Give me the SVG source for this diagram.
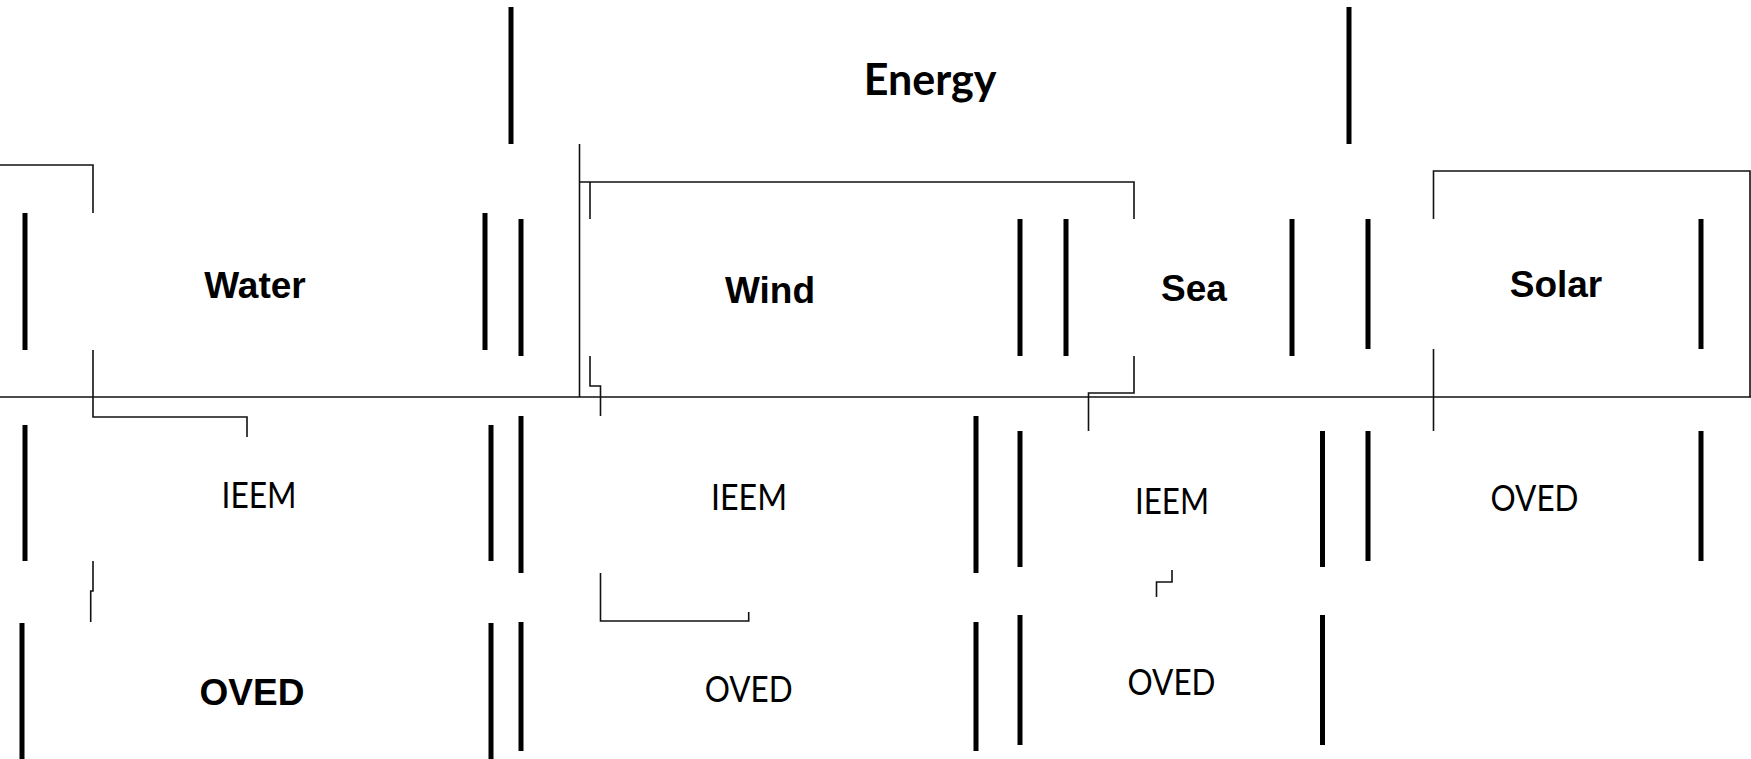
<svg xmlns="http://www.w3.org/2000/svg" width="1751" height="759" viewBox="0 0 1751 759">
<style>
.bar{stroke:#000;stroke-width:5;fill:none}
.con{stroke:#111;stroke-width:1.6;fill:none}
.tb{font-family:"Liberation Sans",Arial,sans-serif;font-weight:bold;font-size:37px;text-anchor:middle;fill:#000}
.tr{font-family:Lato,"Open Sans",sans-serif;font-weight:normal;font-size:36px;text-anchor:middle;fill:#000}
.te{font-family:Lato,"Open Sans",sans-serif;font-weight:bold;font-size:43px;text-anchor:middle;fill:#000}
</style>
<rect width="1751" height="759" fill="#fff"/>
<g id="connectors">
<path class="con" d="M0,165 H93 V213"/>
<path class="con" d="M93,350 V417 H247 V437"/>
<path class="con" d="M93,561 V591 H90.7 V622"/>
<path class="con" d="M0,397 H1751"/>
<path class="con" d="M579.5,144 V397"/>
<path class="con" d="M579.5,182 H1134 V219"/>
<path class="con" d="M1134,356 V393 H1088.5 V431"/>
<path class="con" d="M590,182 V219"/>
<path class="con" d="M590,356 V386 H600.5 V416"/>
<path class="con" d="M600.5,573 V621 H748.7 V612"/>
<path class="con" d="M1172,570 V582 H1156.5 V597"/>
<path class="con" d="M1433.5,219 V171 H1750 V397"/>
<path class="con" d="M1433.5,349 V431"/>
</g>
<g id="energy">
<line class="bar" x1="511" y1="7" x2="511" y2="144"/>
<line class="bar" x1="1349" y1="7" x2="1349" y2="144"/>
<text class="te" x="930" y="95">Energy</text>
</g>
<g id="water">
<line class="bar" x1="25" y1="213" x2="25" y2="350"/>
<line class="bar" x1="485" y1="213" x2="485" y2="350"/>
<text class="tb" x="255" y="298">Water</text>
</g>
<g id="wind">
<line class="bar" x1="521" y1="219" x2="521" y2="356"/>
<line class="bar" x1="1020" y1="219" x2="1020" y2="356"/>
<text class="tb" x="770" y="303">Wind</text>
</g>
<g id="sea">
<line class="bar" x1="1066" y1="219" x2="1066" y2="356"/>
<line class="bar" x1="1292" y1="219" x2="1292" y2="356"/>
<text class="tb" x="1194" y="301" font-size="36">Sea</text>
</g>
<g id="solar">
<line class="bar" x1="1368" y1="219" x2="1368" y2="349"/>
<line class="bar" x1="1701" y1="219" x2="1701" y2="349"/>
<text class="tb" x="1556" y="297">Solar</text>
</g>
<g id="water-ieem">
<line class="bar" x1="25" y1="425" x2="25" y2="561"/>
<line class="bar" x1="491" y1="425" x2="491" y2="561"/>
<text class="tr" x="259" y="508" textLength="75" lengthAdjust="spacingAndGlyphs">IEEM</text>
</g>
<g id="wind-ieem">
<line class="bar" x1="521" y1="416" x2="521" y2="573"/>
<line class="bar" x1="976" y1="416" x2="976" y2="573"/>
<text class="tr" x="749" y="510" textLength="76" lengthAdjust="spacingAndGlyphs">IEEM</text>
</g>
<g id="sea-ieem">
<line class="bar" x1="1020" y1="431" x2="1020" y2="567"/>
<line class="bar" x1="1322.5" y1="431" x2="1322.5" y2="567"/>
<text class="tr" x="1172" y="514" textLength="74" lengthAdjust="spacingAndGlyphs">IEEM</text>
</g>
<g id="solar-oved">
<line class="bar" x1="1368" y1="431" x2="1368" y2="561"/>
<line class="bar" x1="1701" y1="431" x2="1701" y2="561"/>
<text class="tr" x="1534.5" y="511" textLength="88" lengthAdjust="spacingAndGlyphs">OVED</text>
</g>
<g id="water-oved">
<line class="bar" x1="22" y1="623" x2="22" y2="759"/>
<line class="bar" x1="491" y1="623" x2="491" y2="759"/>
<text class="tb" x="252" y="704.5" font-size="35">OVED</text>
</g>
<g id="wind-oved">
<line class="bar" x1="521" y1="622" x2="521" y2="751"/>
<line class="bar" x1="976" y1="622" x2="976" y2="751"/>
<text class="tr" x="748.7" y="702" textLength="88" lengthAdjust="spacingAndGlyphs">OVED</text>
</g>
<g id="sea-oved">
<line class="bar" x1="1020" y1="615" x2="1020" y2="745"/>
<line class="bar" x1="1322.5" y1="615" x2="1322.5" y2="745"/>
<text class="tr" x="1171.5" y="694.5" textLength="88" lengthAdjust="spacingAndGlyphs">OVED</text>
</g>
</svg>
